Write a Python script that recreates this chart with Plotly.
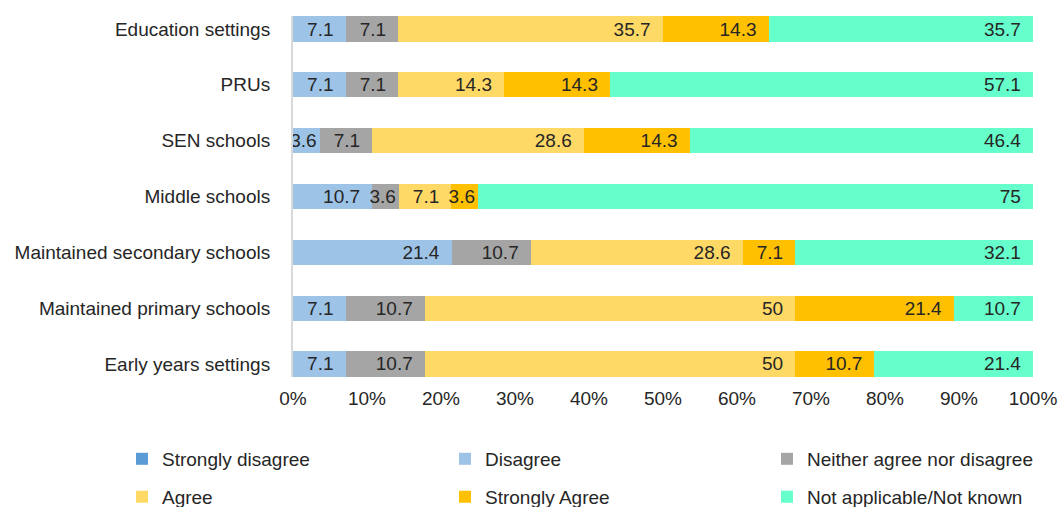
import plotly.graph_objects as go

categories = ["Education settings", "PRUs", "SEN schools", "Middle schools",
              "Maintained secondary schools", "Maintained primary schools", "Early years settings"]

strongly_disagree = [0, 0, 0, 0, 0, 0, 0]
disagree = [7.1, 7.1, 3.6, 10.7, 21.4, 7.1, 7.1]
neither = [7.1, 7.1, 7.1, 3.6, 10.7, 10.7, 10.7]
agree = [35.7, 14.3, 28.6, 7.1, 28.6, 50, 50]
strongly_agree = [14.3, 14.3, 14.3, 3.6, 7.1, 21.4, 10.7]
not_applicable = [35.7, 57.1, 46.4, 75, 32.1, 10.7, 21.4]

series_names = ["Strongly disagree", "Disagree", "Neither agree nor disagree",
                "Agree", "Strongly Agree", "Not applicable/Not known"]
series_values = [strongly_disagree, disagree, neither, agree, strongly_agree, not_applicable]
colors = ["#5B9BD5", "#9DC3E6", "#A5A5A5", "#FFD966", "#FFC000", "#66FFCC"]
x_ticks = [0, 10, 20, 30, 40, 50, 60, 70, 80, 90, 100]
x_tick_labels = [f"{t}%" for t in x_ticks]

FONT = "Liberation Sans, Arial, sans-serif"
TXT = "#262626"

# legend grid: 3 columns x 2 rows (paper coords)
legend_cols = [-0.2311, 0.2054, 0.6405]
legend_rows = [-0.227, -0.332]


def label(v):
    if v <= 0:
        return ""
    s = f"{v:g}"
    return s if v < 5 else s + "\u00a0\u2009"


fig = go.Figure()
legend_layout = {}
for i, (name, vals, col) in enumerate(zip(series_names, series_values, colors)):
    lname = "legend" if i == 0 else f"legend{i + 1}"
    fig.add_trace(go.Bar(
        y=categories, x=vals, name=name, orientation="h",
        marker=dict(color=col, line=dict(width=0)),
        text=[label(v) for v in vals], textposition="inside", insidetextanchor="end",
        textangle=0, constraintext="none", cliponaxis=False,
        textfont=dict(family=FONT, size=19, color=TXT),
        legend=lname,
        hoverinfo="x+y+name",
    ))
    legend_layout[lname] = dict(
        x=legend_cols[i % 3], y=legend_rows[i // 3],
        xanchor="left", yanchor="middle", orientation="h",
        font=dict(family=FONT, size=19, color=TXT),
        itemwidth=30, bgcolor="rgba(0,0,0,0)", borderwidth=0,
    )

fig.update_layout(
    width=1059, height=507,
    margin=dict(l=293, r=26, t=16, b=130, autoexpand=False),
    barmode="stack", barnorm="percent", bargap=0.551,
    plot_bgcolor="white", paper_bgcolor="white",
    font=dict(family=FONT, size=19, color=TXT),
    showlegend=True,
    xaxis=dict(range=[0, 100], tickvals=x_ticks, ticktext=x_tick_labels,
               showgrid=False, zeroline=False, showline=False,
               ticks="", ticklabelstandoff=8, automargin=False,
               tickfont=dict(family=FONT, size=19, color=TXT)),
    yaxis=dict(categoryorder="array", categoryarray=categories,
               range=[6.233, -0.233], showgrid=False, zeroline=False,
               showline=True, linecolor="#D9D9D9", linewidth=2,
               ticks="", ticklabelstandoff=17, automargin=False,
               tickfont=dict(family=FONT, size=19, color=TXT)),
    **legend_layout,
)

fig.write_html("out.html", config={"displayModeBar": False},
               post_script="document.body.style.margin='0';")
